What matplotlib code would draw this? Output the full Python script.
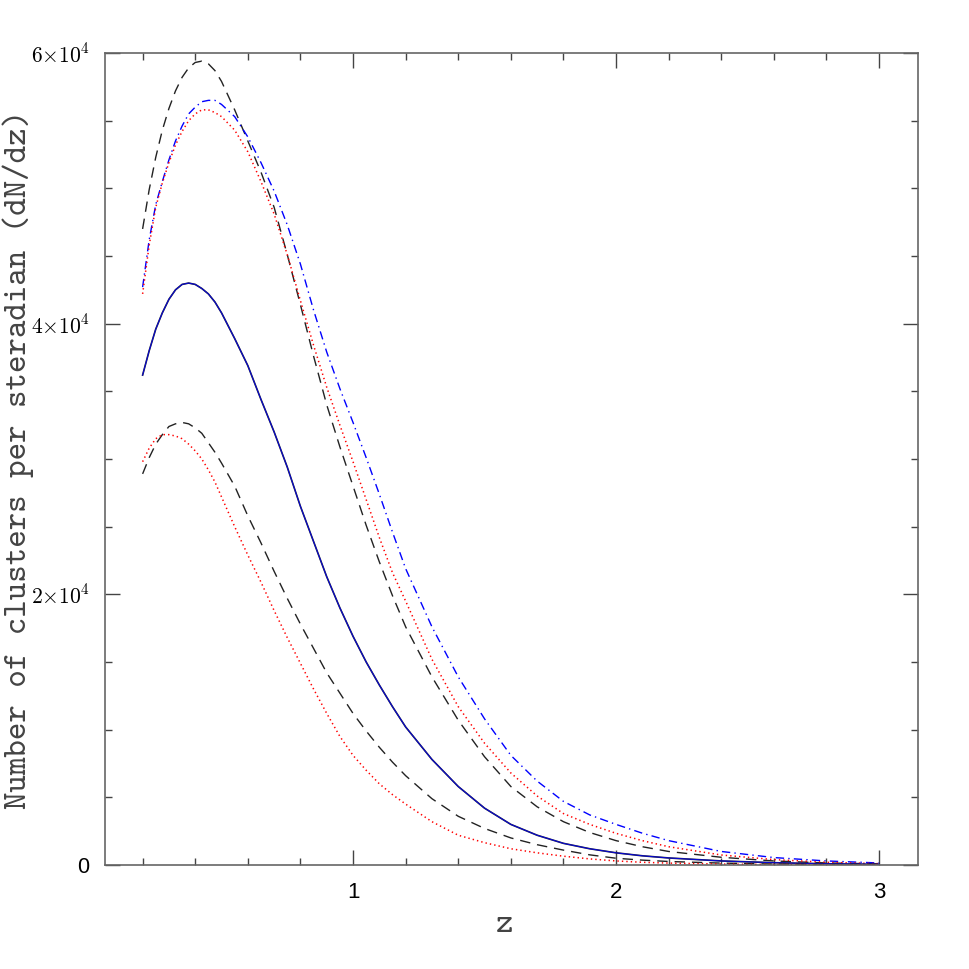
import matplotlib
matplotlib.use('Agg')
import matplotlib.pyplot as plt
from matplotlib.ticker import MultipleLocator, FixedLocator

# redshift grid
z = [0.2, 0.225, 0.25, 0.275, 0.3, 0.325, 0.35, 0.375, 0.4, 0.425, 0.45, 0.475, 0.5,
     0.55, 0.6, 0.65, 0.7, 0.75, 0.8, 0.85, 0.9, 0.95, 1.0, 1.05, 1.1, 1.15, 1.2,
     1.3, 1.4, 1.5, 1.6, 1.7, 1.8, 1.9, 2.0, 2.1, 2.2, 2.4, 2.6, 2.8, 3.0]

# values in units of 1e4 clusters per steradian
dash_upper = [4.70, 4.99, 5.23, 5.43, 5.59, 5.72, 5.82, 5.89, 5.93, 5.94, 5.92, 5.87, 5.79,
              5.58, 5.35, 5.12, 4.86, 4.51, 4.14, 3.76, 3.40, 3.09, 2.80, 2.51, 2.24, 1.99, 1.76,
              1.39, 1.07, 0.80, 0.58, 0.43, 0.32, 0.24, 0.18, 0.135, 0.10, 0.057, 0.03, 0.015, 0.008]
dashdot_blue = [4.27, 4.62, 4.88, 5.05, 5.21, 5.35, 5.46, 5.55, 5.60, 5.64, 5.65, 5.65, 5.62,
                5.53, 5.38, 5.19, 4.98, 4.73, 4.44, 4.10, 3.79, 3.52, 3.27, 3.01, 2.74, 2.46, 2.19,
                1.76, 1.39, 1.08, 0.81, 0.62, 0.47, 0.37, 0.30, 0.235, 0.18, 0.10, 0.055, 0.03, 0.015]
dot_upper = [4.22, 4.58, 4.86, 5.04, 5.19, 5.32, 5.42, 5.50, 5.55, 5.58, 5.58, 5.56, 5.53,
             5.43, 5.27, 5.05, 4.81, 4.51, 4.17, 3.84, 3.53, 3.25, 2.98, 2.70, 2.42, 2.16, 1.95,
             1.52, 1.17, 0.90, 0.68, 0.51, 0.38, 0.30, 0.234, 0.18, 0.135, 0.074, 0.040, 0.02, 0.01]
solid = [3.62, 3.80, 3.96, 4.08, 4.18, 4.25, 4.29, 4.30, 4.29, 4.26, 4.22, 4.16, 4.08,
         3.89, 3.69, 3.44, 3.20, 2.94, 2.65, 2.39, 2.13, 1.90, 1.69, 1.50, 1.33, 1.17, 1.02,
         0.78, 0.58, 0.42, 0.30, 0.22, 0.16, 0.12, 0.09, 0.068, 0.052, 0.03, 0.017, 0.009, 0.005]
dash_lower = [2.89, 3.01, 3.11, 3.18, 3.24, 3.26, 3.27, 3.26, 3.23, 3.19, 3.12, 3.05, 2.97,
              2.80, 2.58, 2.38, 2.17, 1.97, 1.78, 1.60, 1.42, 1.27, 1.12, 0.99, 0.87, 0.76, 0.66,
              0.49, 0.36, 0.27, 0.20, 0.15, 0.11, 0.075, 0.05, 0.036, 0.026, 0.014, 0.007, 0.004, 0.002]
dot_lower = [2.98, 3.08, 3.15, 3.18, 3.18, 3.17, 3.15, 3.11, 3.06, 3.00, 2.92, 2.83, 2.72,
             2.50, 2.29, 2.09, 1.88, 1.68, 1.49, 1.30, 1.12, 0.95, 0.81, 0.70, 0.60, 0.52, 0.45,
             0.32, 0.22, 0.165, 0.12, 0.09, 0.065, 0.045, 0.03, 0.02, 0.014, 0.007, 0.004, 0.002, 0.001]

scale = 1e4
x_ticks = [1, 2, 3]
x_ticklabels = ['1', '2', '3']
y_ticks = [0, 20000, 40000, 60000]
y_ticklabels = ['0', r'$2{\times}10^4$', r'$4{\times}10^4$', r'$6{\times}10^4$']

plt.rcParams['mathtext.fontset'] = 'cm'
plt.rcParams['font.family'] = ['Liberation Sans', 'DejaVu Sans']
plt.rcParams['lines.scale_dashes'] = False

fig = plt.figure(figsize=(9.69, 9.69), dpi=100)
ax = fig.add_axes([105/969, 1-865/969, (918-105)/969, (865-53)/969])

def sc(v):
    return [a*scale for a in v]

ax.plot(z, sc(dash_upper), color='#222222', lw=1.0, dashes=(7.5, 5))
ax.plot(z, sc(dashdot_blue), color='#0000ff', lw=1.0, dashes=(6, 3, 1, 3))
ax.plot(z, sc(dot_upper), color='#ff0000', lw=1.1, dashes=(1, 2.2))
ax.plot(z, sc(solid), color='#222222', lw=1.2)
ax.plot(z, sc(solid), color='#0000ff', lw=0.8, alpha=0.8)
ax.plot(z, sc(dash_lower), color='#222222', lw=1.0, dashes=(7.5, 5))
ax.plot(z, sc(dot_lower), color='#ff0000', lw=1.1, dashes=(1, 2.2))

ax.set_xlim(0.057, 3.148)
ax.set_ylim(0, 60000)

ax.xaxis.set_major_locator(FixedLocator(x_ticks))
ax.xaxis.set_minor_locator(MultipleLocator(0.2))
ax.set_xticklabels(x_ticklabels, fontsize=16)
ax.yaxis.set_major_locator(FixedLocator(y_ticks))
ax.yaxis.set_minor_locator(MultipleLocator(5000))
ax.set_yticklabels(y_ticklabels, fontsize=15.5)

ax.tick_params(which='both', direction='in', top=True, right=True,
               color='#444444', width=1.0)
ax.tick_params(which='major', length=11)
ax.tick_params(which='minor', length=5)
ax.tick_params(axis='x', pad=12)
ax.tick_params(axis='y', pad=11)

for s in ax.spines.values():
    s.set_color('#666666')
    s.set_linewidth(1.2)

fig.text(18/969, 1-459/969, 'Number of clusters per steradian (dN/dz)',
         rotation=90, ha='center', va='center', family='cmtt10', fontsize=24,
         color='#444444')
fig.text(505/969, 1-925/969, 'z', ha='center', va='center', family='cmtt10',
         fontsize=24, color='#444444')

fig.savefig('out.png', dpi=100)
